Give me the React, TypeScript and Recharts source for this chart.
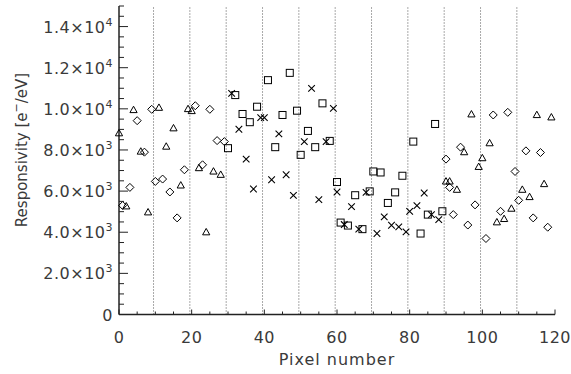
import React from 'react';
import { ScatterChart, Scatter, XAxis, YAxis, ReferenceLine } from 'recharts';

// diamonds and triangles: pixels 0-29 and 90-119
const diamondX = [1, 3, 5, 7, 9, 10, 12, 14, 16, 18, 21, 23, 25, 27, 29, 90, 91, 92, 94, 96, 98, 101, 103, 105, 107, 109, 110, 112, 114, 116, 118];
const diamondY = [5300, 6180, 9425, 7894, 9976, 6470, 6586, 5957, 4697, 7037, 10151, 7279, 9976, 8456, 8407, 7555, 6180, 4857, 8136, 4350, 5330, 3695, 9701, 5017, 9830, 6955, 5552, 7957, 4697, 7876, 4244];

const triangleX = [0, 2, 4, 6, 8, 11, 13, 15, 17, 19, 20, 22, 24, 26, 28, 90, 91, 93, 95, 97, 99, 100, 102, 104, 106, 108, 111, 113, 115, 117, 119];
const triangleY = [8814, 5260, 9943, 7924, 4969, 10054, 8165, 9056, 6277, 9991, 9894, 7119, 4000, 6955, 6795, 6470, 6470, 6068, 7894, 9733, 7180, 7603, 8330, 4485, 4647, 5148, 6068, 5713, 9701, 6344, 9587];

// squares and crosses: pixels 30-89
const squareX = [30, 32, 34, 36, 38, 41, 43, 45, 47, 49, 50, 52, 54, 56, 58, 60, 61, 63, 65, 67, 69, 70, 72, 74, 76, 78, 81, 83, 85, 87, 89];
const squareY = [8087, 10669, 9749, 9350, 10103, 11395, 8136, 9701, 11749, 9910, 7763, 8926, 8136, 10267, 8441, 6441, 4470, 4325, 5800, 4150, 5986, 6955, 6906, 5424, 5938, 6746, 8407, 3937, 4857, 9264, 5020];

const crossX = [31, 33, 35, 37, 39, 40, 42, 44, 46, 48, 51, 53, 55, 57, 59, 60, 62, 64, 66, 68, 71, 73, 75, 77, 79, 80, 82, 84, 86, 88];
const crossY = [10752, 9007, 7555, 6102, 9570, 9570, 6552, 8780, 6795, 5792, 8407, 10994, 5584, 8407, 10025, 5957, 4373, 5245, 4150, 5938, 3937, 4745, 4340, 4260, 4020, 5017, 5293, 5906, 4857, 4615];

const pixelBoundaries = [9.5, 19.5, 29.5, 39.5, 49.5, 59.5, 69.5, 79.5, 89.5, 99.5, 109.5];

const xTicks = [0, 5, 10, 15, 20, 25, 30, 35, 40, 45, 50, 55, 60, 65, 70, 75, 80, 85, 90, 95, 100, 105, 110, 115, 120];
const xTickLabels = [0, 20, 40, 60, 80, 100, 120];

const yTicks = Array.from({ length: 31 }, (_, i) => i * 500);
const yTickLabels = [
  { v: 0, m: '0', e: '' },
  { v: 2000, m: '2.0×10', e: '3' },
  { v: 4000, m: '4.0×10', e: '3' },
  { v: 6000, m: '6.0×10', e: '3' },
  { v: 8000, m: '8.0×10', e: '3' },
  { v: 10000, m: '1.0×10', e: '4' },
  { v: 12000, m: '1.2×10', e: '4' },
  { v: 14000, m: '1.4×10', e: '4' },
];

const toPoints = (xs: number[], ys: number[]) => xs.map((x, i) => ({ x, y: ys[i] }));

const FONT = '"DejaVu Sans", sans-serif';
const TEXT = '#3a3a3a';
const FRAME = '#222';

const Diamond = ({ cx, cy }: any) => (
  <path d={`M${cx},${cy - 4}L${cx + 4},${cy}L${cx},${cy + 4}L${cx - 4},${cy}Z`} fill="none" stroke="#000" strokeWidth={1} />
);
const Triangle = ({ cx, cy }: any) => (
  <path d={`M${cx},${cy - 3.8}L${cx + 3.6},${cy + 2.6}L${cx - 3.6},${cy + 2.6}Z`} fill="none" stroke="#000" strokeWidth={1} />
);
const Square = ({ cx, cy }: any) => (
  <rect x={cx - 3.5} y={cy - 3.5} width={7} height={7} fill="none" stroke="#000" strokeWidth={1} />
);
const Cross = ({ cx, cy }: any) => (
  <path d={`M${cx - 3.3},${cy - 3.3}L${cx + 3.3},${cy + 3.3}M${cx - 3.3},${cy + 3.3}L${cx + 3.3},${cy - 3.3}`} stroke="#000" strokeWidth={1.1} />
);

const BottomTick = ({ x, y, payload }: any) => {
  const v = payload.value;
  const major = xTickLabels.includes(v);
  return (
    <g>
      <line x1={x} x2={x} y1={y} y2={y - (major ? 5 : 3)} stroke={FRAME} />
      {major && (
        <text x={x} y={y + 28} textAnchor="middle" fontFamily={FONT} fontSize={16} letterSpacing={0.5} fill={TEXT}>
          {v}
        </text>
      )}
    </g>
  );
};

const TopTick = ({ x, y, payload }: any) => {
  const major = xTickLabels.includes(payload.value);
  return <line x1={x} x2={x} y1={y} y2={y + (major ? 5 : 3)} stroke={FRAME} />;
};

const LeftTick = ({ x, y, payload }: any) => {
  const lab = yTickLabels.find((t) => t.v === payload.value);
  return (
    <g>
      <line x1={x} x2={x + (lab ? 9 : 5)} y1={y} y2={y} stroke={FRAME} />
      {lab && (
        <text x={113} y={y + 6} textAnchor="end" fontFamily={FONT} fontSize={16} letterSpacing={0.5} fill={TEXT}>
          <tspan>{lab.m}</tspan>
          {lab.e && (
            <tspan dy={-7} fontSize={11}>
              {lab.e}
            </tspan>
          )}
        </text>
      )}
    </g>
  );
};

const RightTick = ({ x, y, payload }: any) => {
  const major = yTickLabels.some((t) => t.v === payload.value);
  return <line x1={x} x2={x - (major ? 9 : 5)} y1={y} y2={y} stroke={FRAME} />;
};

export default function App() {
  return (
    <div style={{ position: 'absolute', left: 0, top: 0, width: 571, height: 374, background: '#fff' }}>
      <ScatterChart width={571} height={374} margin={{ top: 6, right: 16, bottom: 0, left: 0 }}>
        <XAxis
          xAxisId={0}
          type="number"
          dataKey="x"
          domain={[0, 120]}
          ticks={xTicks}
          interval={0}
          height={59.5}
          tickSize={0}
          tickMargin={0}
          axisLine={{ stroke: FRAME, strokeWidth: 1.5 }}
          tick={<BottomTick />}
        />
        <XAxis
          xAxisId="top"
          orientation="top"
          type="number"
          domain={[0, 120]}
          ticks={xTicks}
          interval={0}
          height={0}
          tickSize={0}
          tickMargin={0}
          axisLine={{ stroke: FRAME, strokeWidth: 1.5 }}
          tick={<TopTick />}
        />
        <YAxis
          yAxisId={0}
          type="number"
          dataKey="y"
          domain={[0, 15000]}
          ticks={yTicks}
          interval={0}
          width={119}
          tickSize={0}
          tickMargin={0}
          axisLine={{ stroke: FRAME, strokeWidth: 1.5 }}
          tick={<LeftTick />}
        />
        <YAxis
          yAxisId="right"
          orientation="right"
          type="number"
          domain={[0, 15000]}
          ticks={yTicks}
          interval={0}
          width={0}
          tickSize={0}
          tickMargin={0}
          axisLine={{ stroke: FRAME, strokeWidth: 1.5 }}
          tick={<RightTick />}
        />
        {pixelBoundaries.map((b) => (
          <ReferenceLine key={b} x={b} xAxisId={0} yAxisId={0} stroke="#555" strokeDasharray="1 2" />
        ))}
        <Scatter data={toPoints(diamondX, diamondY)} shape={<Diamond />} isAnimationActive={false} />
        <Scatter data={toPoints(triangleX, triangleY)} shape={<Triangle />} isAnimationActive={false} />
        <Scatter data={toPoints(squareX, squareY)} shape={<Square />} isAnimationActive={false} />
        <Scatter data={toPoints(crossX, crossY)} shape={<Cross />} isAnimationActive={false} />
      </ScatterChart>
      <svg width={571} height={374} style={{ position: 'absolute', left: 0, top: 0, pointerEvents: 'none' }}>
        <text x={337} y={365} textAnchor="middle" fontFamily={FONT} fontSize={16} letterSpacing={1} fill={TEXT}>
          Pixel number
        </text>
        <text transform="translate(27,150) rotate(-90)" textAnchor="middle" fontFamily={FONT} fontSize={15} fill={TEXT}>
          Responsivity [e
          <tspan dy={-7} fontSize={11}>
            −
          </tspan>
          <tspan dy={7}>/eV]</tspan>
        </text>
      </svg>
    </div>
  );
}
